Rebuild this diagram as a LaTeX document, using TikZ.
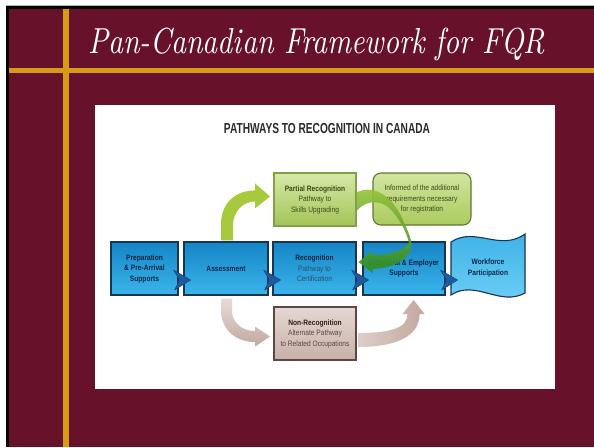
\documentclass[tikz,border=0pt]{standalone}
\usepackage{fontspec}
\newfontfamily\condsans[FakeStretch=0.85]{Liberation Sans}
\newfontfamily\headsans[FakeStretch=0.7]{Liberation Sans}
\usetikzlibrary{calc}

% slide colours
\definecolor{slidebg}{HTML}{67112B}
\definecolor{slidegold}{HTML}{D89C14}
% flow chart colours
\definecolor{stagetop}{HTML}{1585C6}
\definecolor{stagebot}{HTML}{3BB5EB}
\definecolor{stageedge}{HTML}{1B3452}
\definecolor{stagetext}{HTML}{0E2744}
\definecolor{stagesub}{HTML}{2E4E6E}
\definecolor{wavetop}{HTML}{3AB0E6}
\definecolor{wavebot}{HTML}{70D0F6}
\definecolor{chevfill}{HTML}{1E5AA0}
\definecolor{chevedge}{HTML}{123E72}
\definecolor{partialtop}{HTML}{D6E8A8}
\definecolor{partialbot}{HTML}{A4C457}
\definecolor{partialedge}{HTML}{80A04A}
\definecolor{informtop}{HTML}{D2E5A0}
\definecolor{informbot}{HTML}{AACB5E}
\definecolor{informedge}{HTML}{5E7A2C}
\definecolor{greentext}{HTML}{3A4A18}
\definecolor{liftgreen}{HTML}{A7C93C}
\definecolor{returntop}{HTML}{9CC53A}
\definecolor{returnbot}{HTML}{2C8B22}
\definecolor{nontop}{HTML}{E5D7D3}
\definecolor{nonbot}{HTML}{C9B0A9}
\definecolor{nonedge}{HTML}{5C4842}
\definecolor{nontext}{HTML}{2B1E1B}
\definecolor{nonsub}{HTML}{5A4843}
\definecolor{taupetop}{HTML}{DDCDC8}
\definecolor{taupebot}{HTML}{C3A79F}
\definecolor{headgray}{HTML}{2A2A2A}

\newcommand{\stagefont}{\condsans\fontsize{7.8}{10.5}\selectfont}

\tikzset{
  stage/.style={draw=stageedge, line width=1.1pt, top color=stagetop,
    bottom color=stagebot, minimum height=53pt, inner sep=1pt,
    align=center, text=stagetext, font=\stagefont\bfseries},
  partialbox/.style={draw=partialedge, line width=1.1pt, top color=partialtop,
    bottom color=partialbot, minimum width=82pt, minimum height=53pt,
    inner sep=1pt, align=center, text=greentext, font=\stagefont},
  informbox/.style={draw=informedge, line width=1.1pt, top color=informtop,
    bottom color=informbot, rounded corners=8pt, minimum width=98pt,
    minimum height=52pt, inner sep=1pt, align=center, text=greentext,
    font=\stagefont},
  nonbox/.style={draw=nonedge, line width=1.1pt, top color=nontop,
    bottom color=nonbot, minimum width=82pt, minimum height=53pt,
    inner sep=1pt, align=center, text=nontext, font=\stagefont},
  chevron/.style={fill=chevfill, draw=chevedge, line width=0.4pt, line join=round},
}

\begin{document}
\begin{tikzpicture}[x=1pt, y=-1pt]
\useasboundingbox (0,0) rectangle (594,447);

% slide frame
\fill[white] (0,0) rectangle (594,447);
\fill[gray!60] (6,4.8) rectangle (594,6.2);
\fill[black] (6,6) rectangle (594,447);
\fill[slidebg] (9.3,8.7) rectangle (594,447);
\fill[slidegold] (63,8.7) rectangle (69,447);
\fill[slidegold] (9.3,68) rectangle (594,73);

\node[anchor=base west, inner sep=0, text=white] (slidetitle) at (88,53)
  {\resizebox{457pt}{25.5pt}{\itshape Pan-Canadian Framework for FQR}};

% white panel holding the chart
\fill[white] (95,105) rectangle (555,389);

\node[anchor=base, inner sep=0, text=headgray,
      font=\headsans\bfseries\fontsize{14.5}{16}\selectfont] (charttitle) at (327,133)
  {PATHWAYS TO RECOGNITION IN CANADA};

% main row of stages
\node[stage, minimum width=67pt] (prep) at (144.5,268.5)
  {Preparation\\\& Pre-Arrival\\Supports};
\node[stage, minimum width=84pt] (assess) at (226,268.5) {Assessment};
\node[stage, minimum width=83pt] (recog) at (314.5,268.5)
  {Recognition\\\textcolor{stagesub}{\mdseries Pathway to}\\\textcolor{stagesub}{\mdseries Certification}};
\node[stage, minimum width=82pt] (support) at (404,268.5)
  {Individual \& Employer\\Supports};

% workforce banner
\coordinate (workc) at (488,268);
\begin{scope}[shift={(workc)}]
  \shade[top color=wavetop, bottom color=wavebot, draw=stageedge, line width=1.1pt]
    (-37,-26) .. controls (-13,-42) and (12,-16) .. (37,-34)
    -- (37,25) .. controls (12,39) and (-13,11) .. (-37,27) -- cycle;
\end{scope}
\node[align=center, text=stagetext, font=\stagefont\bfseries] (work) at (workc)
  {Workforce\\Participation};

% side branches
\node[partialbox] (partial) at (315,199.5)
  {\textbf{Partial Recognition}\\Pathway to\\Skills Upgrading};
\node[informbox] (inform) at (422,199)
  {Informed of the additional\\requirements necessary\\for registration};
\node[nonbox] (nonrec) at (315,333.5)
  {\textbf{Non-Recognition}\\\textcolor{nonsub}{Alternate Pathway}\\\textcolor{nonsub}{to Related Occupations}};

% chevrons between consecutive stages
\foreach \s in {prep,assess,recog,support}{
  \fill[chevron] ($(\s.east)+(0,11.5)$) ++(-5,-10) -- ++(17,10) -- ++(-16,10) -- ++(5,-10) -- cycle;
}

% assessment up to partial recognition
\begin{scope}[shift={(assess.north)}]
  \fill[liftgreen]
    (-5,-1) -- (-5,-17) .. controls (-5,-39) and (10,-51) .. (29,-51)
    -- (29,-58) -- (44,-45) -- (29,-33) -- (29,-40)
    .. controls (17,-40) and (7,-30) .. (7,-16) -- (7,-1) -- cycle;
\end{scope}

% partial recognition back to the supports stage
\begin{scope}[shift={(partial.east)}]
  \shade[top color=returntop, bottom color=returnbot, opacity=0.9]
    (1,-7.5) .. controls (19,-15.5) and (36,-1.5) .. (45,17.5)
    .. controls (50,28.5) and (54,36.5) .. (55,44.5)
    .. controls (55,58.5) and (39,68.5) .. (16,69.5)
    -- (16,73.5) -- (2,62.5) -- (16,51.5) -- (16,55.5)
    .. controls (34,55.5) and (48,50.5) .. (52.5,43.5)
    .. controls (50,32.5) and (44,22.5) .. (38,14.5)
    .. controls (28,0.5) and (12,-1.5) .. (1,10.5) -- cycle;
\end{scope}

% assessment down to non-recognition
\begin{scope}[shift={(assess.south)}]
  \shade[top color=taupetop!70!white, bottom color=taupebot]
    (-5,3) -- (-5,15) .. controls (-5,34) and (10,46.5) .. (29,46.5)
    -- (29,51) -- (44,41) -- (29,31) -- (29,35.5)
    .. controls (16,35.5) and (6,27) .. (6,15) -- (6,3) -- cycle;
\end{scope}

% non-recognition up to the supports stage
\begin{scope}[shift={(nonrec.east)}]
  \shade[left color=taupetop, right color=taupebot]
    (2,-0.5) .. controls (34,-0.5) and (51,-5.5) .. (51,-19.5)
    -- (46,-19.5) -- (57,-33.5) -- (68,-19.5) -- (63,-19.5)
    .. controls (63,4.5) and (36,13.5) .. (2,13.5) -- cycle;
\end{scope}
\end{tikzpicture}
\end{document}
